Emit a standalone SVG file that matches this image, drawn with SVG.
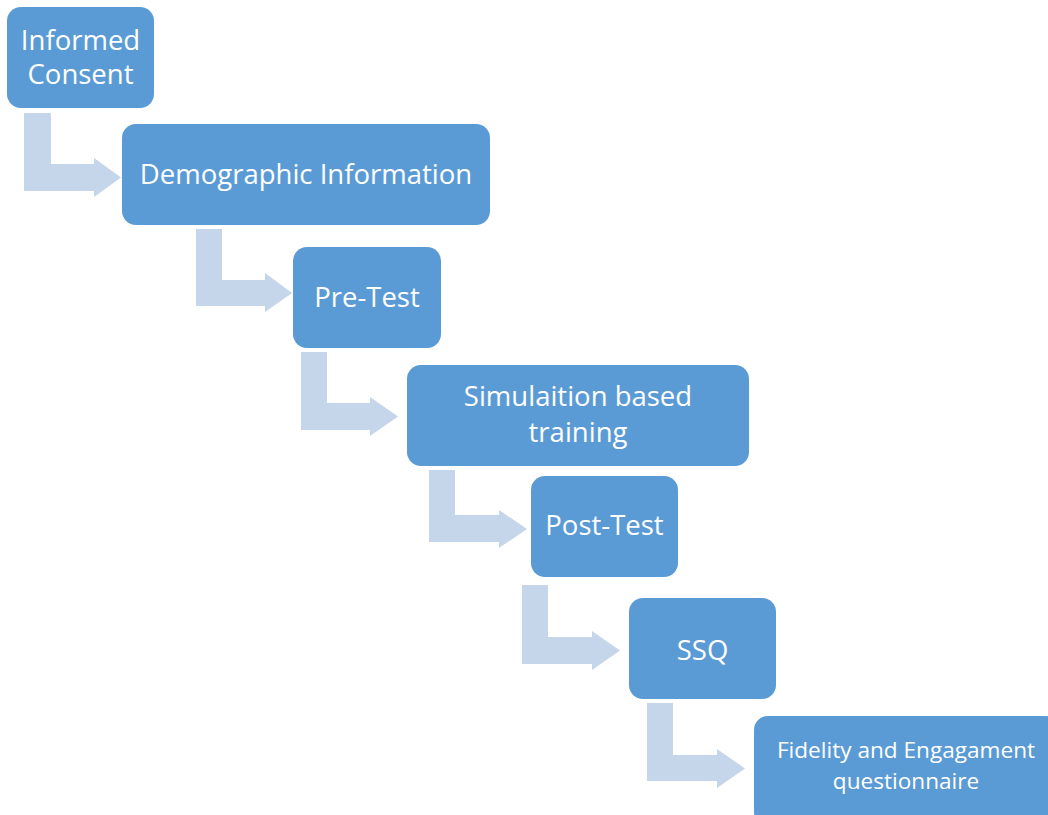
<svg xmlns="http://www.w3.org/2000/svg" width="1048" height="815" viewBox="0 0 1048 815">
<style>
.node{fill:#5B9BD5;}
.arr{fill:#C5D5EA;}
.t{fill:#FFFFFF;font-family:"Open Sans","Liberation Sans",sans-serif;font-size:27.5px;text-anchor:middle;}
.s{font-size:22.6px;}
</style>
<rect width="1048" height="815" fill="#FFFFFF"/>
<g id="connectors">
<polygon class="arr" points="24,113 51,113 51,164 94,164 94,158 121,177.5 94,197 94,191 24,191"/>
<polygon class="arr" points="196,229 222,229 222,280 265,280 265,273 292,293 265,312 265,306 196,306"/>
<polygon class="arr" points="301,352 327,352 327,403 370,403 370,397 398,416.5 370,436 370,430 301,430"/>
<polygon class="arr" points="429,470 455,470 455,515 499,515 499,510 527,529 499,548 499,542 429,542"/>
<polygon class="arr" points="522,585 548,585 548,637 592,637 592,631 620,650.5 592,670 592,664 522,664"/>
<polygon class="arr" points="647,703 673,703 673,755 717,755 717,749 745,768.5 717,788 717,781 647,781"/>
</g>
<g id="n1"><rect class="node" x="7" y="7" width="147" height="101" rx="14"/>
<text class="t" x="80.5" y="50">Informed</text><text class="t" x="80.5" y="84">Consent</text></g>
<g id="n2"><rect class="node" x="122" y="124" width="368" height="101" rx="14"/>
<text class="t" x="306" y="184">Demographic Information</text></g>
<g id="n3"><rect class="node" x="293" y="247" width="148" height="101" rx="14"/>
<text class="t" x="367" y="307">Pre-Test</text></g>
<g id="n4"><rect class="node" x="407" y="365" width="342" height="101" rx="14"/>
<text class="t" x="578" y="406">Simulaition based</text><text class="t" x="578" y="442">training</text></g>
<g id="n5"><rect class="node" x="531" y="476" width="147" height="101" rx="14"/>
<text class="t" x="604.5" y="535">Post-Test</text></g>
<g id="n6"><rect class="node" x="629" y="598" width="147" height="101" rx="14"/>
<text class="t" x="702.5" y="660">SSQ</text></g>
<g id="n7"><rect class="node" x="754" y="716" width="306" height="110" rx="14"/>
<text class="t s" x="906" y="758">Fidelity and Engagament</text><text class="t s" x="906" y="789">questionnaire</text></g>
</svg>
